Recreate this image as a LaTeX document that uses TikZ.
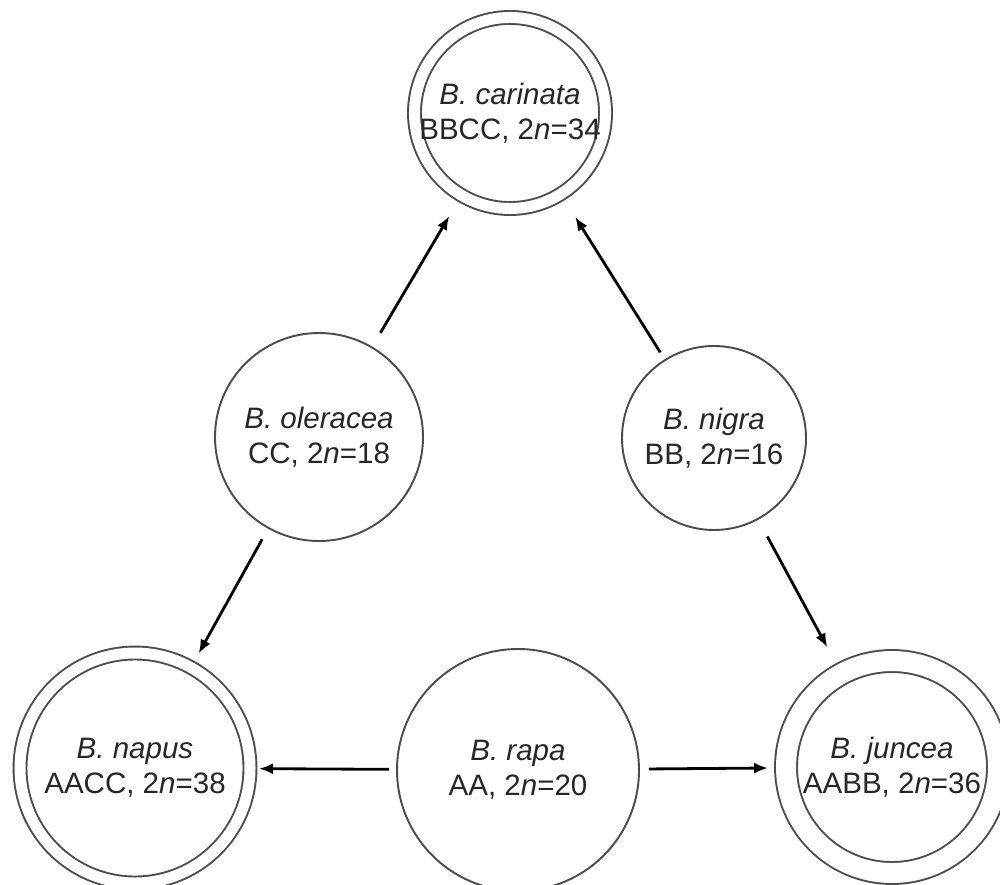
\documentclass[tikz,border=0pt]{standalone}
\usepackage{fontspec}
\setmainfont{Liberation Sans}
\usepackage{tikz}
\usetikzlibrary{arrows.meta}
\tikzset{
cell/.style = {circle, draw=black!70, line width=0.55pt, minimum size = #1, inner sep=0pt, align=center, text=black!85, font=\fontsize{8.4}{10}\selectfont},
cell/.default = 2cm, % size of the circle diameter
ring/.style = {cell=#1, double, double distance=0.11cm},
}

\begin{document}
\begin{tikzpicture}
  \useasboundingbox (0,0) rectangle (10,-8.84);
  % Circles
    \node[ring=1.88cm] (carinataCircle) at (5.10,-1.13) {\textit{B. carinata}\\BBCC, 2\textit{n}=34};
    \node[cell=2.08cm] (oleraceaCircle) at (3.19,-4.37) {\textit{B. oleracea}\\CC, 2\textit{n}=18};
    \node[cell=1.84cm] (nigraCircle) at (7.14,-4.38) {\textit{B. nigra}\\BB, 2\textit{n}=16};
    \node[ring=2.30cm] (napusCircle) at (1.35,-7.68) {\textit{B. napus}\\AACC, 2\textit{n}=38};
    \node[cell=2.42cm] (rapaCircle) at (5.18,-7.70) {\textit{B. rapa}\\AA, 2\textit{n}=20};
    \node[ring=2.12cm, double distance=0.2cm] (junceaCircle) at (8.92,-7.67) {\textit{B. juncea}\\AABB, 2\textit{n}=36};

  % Lines
    \draw[-{Latex[length=0.14cm, width=0.11cm]}, line width=0.8pt, shorten <=0.16cm, shorten >=0.23cm] (oleraceaCircle) -- (carinataCircle);
    \draw[-{Latex[length=0.14cm, width=0.11cm]}, line width=0.8pt, shorten <=0.08cm, shorten >=0.26cm] (nigraCircle) -- (carinataCircle);
    \draw[-{Latex[length=0.14cm, width=0.11cm]}, line width=0.8pt, shorten <=0.12cm, shorten >=0.15cm] (oleraceaCircle) -- (napusCircle);
    \draw[-{Latex[length=0.14cm, width=0.11cm]}, line width=0.8pt, shorten <=0.19cm, shorten >=0.29cm] (nigraCircle) -- (junceaCircle);
    \draw[-{Latex[length=0.14cm, width=0.11cm]}, line width=0.8pt, shorten <=0.07cm, shorten >=0.08cm] (rapaCircle) -- (napusCircle);
    \draw[-{Latex[length=0.14cm, width=0.11cm]}, line width=0.8pt, shorten <=0.09cm, shorten >=0.17cm] (rapaCircle) -- (junceaCircle);
\end{tikzpicture}
\end{document}
